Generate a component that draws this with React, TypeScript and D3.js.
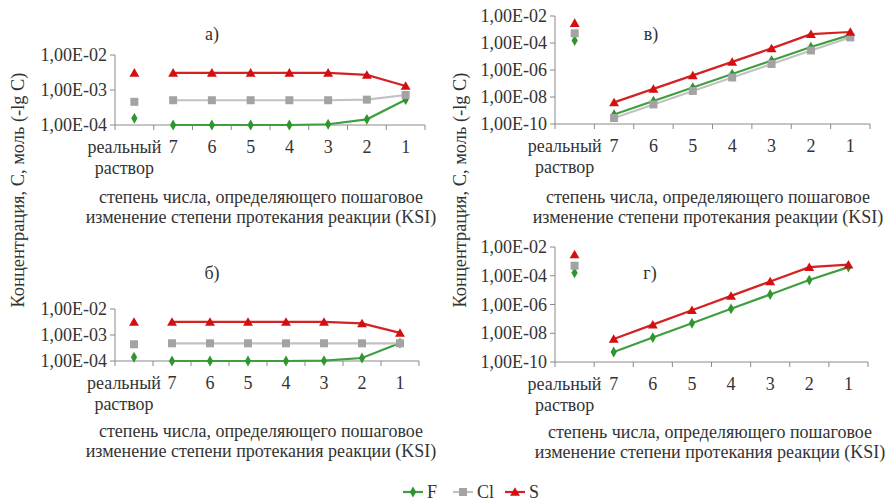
import React from "react";
import * as d3 from "d3";

// categories on the x axis: the real solution, then the KSI power 7..1
const categories = ["реальный раствор", "7", "6", "5", "4", "3", "2", "1"];
const steps = ["7", "6", "5", "4", "3", "2", "1"];

// panel а)
const aReal = { F: 1.55e-4, Cl: 4.6e-4, S: 3.1e-3 };
const aF = [1.0e-4, 1.0e-4, 1.0e-4, 1.0e-4, 1.05e-4, 1.45e-4, 5.3e-4];
const aCl = [5.1e-4, 5.1e-4, 5.1e-4, 5.1e-4, 5.1e-4, 5.3e-4, 7.2e-4];
const aS = [3.1e-3, 3.1e-3, 3.1e-3, 3.1e-3, 3.1e-3, 2.7e-3, 1.3e-3];

// panel б)
const bReal = { F: 1.4e-4, Cl: 4.4e-4, S: 3.2e-3 };
const bF = [1.0e-4, 1.0e-4, 1.0e-4, 1.0e-4, 1.03e-4, 1.3e-4, 4.9e-4];
const bCl = [4.8e-4, 4.8e-4, 4.8e-4, 4.8e-4, 4.8e-4, 4.8e-4, 4.8e-4];
const bS = [3.2e-3, 3.2e-3, 3.2e-3, 3.2e-3, 3.2e-3, 2.8e-3, 1.2e-3];

// panel в)
const vReal = { F: 1.5e-4, Cl: 5.2e-4, S: 3.0e-3 };
const vF = [5e-10, 5e-9, 5e-8, 5e-7, 5e-6, 5e-5, 4e-4];
const vCl = [2.8e-10, 2.8e-9, 2.8e-8, 2.8e-7, 2.8e-6, 2.8e-5, 2.6e-4];
const vS = [4e-9, 4e-8, 4e-7, 4e-6, 4e-5, 4.5e-4, 6.5e-4];

// panel г)
const gReal = { F: 1.6e-4, Cl: 5e-4, S: 3e-3 };
const gF = [5e-10, 5e-9, 5e-8, 5e-7, 5e-6, 5e-5, 4e-4];
const gCl: number[] | null = null;
const gS = [4e-9, 4e-8, 4e-7, 4e-6, 4e-5, 4e-4, 6e-4];

const ticksNarrow = [1e-2, 1e-3, 1e-4];
const ticksWide = [1e-2, 1e-4, 1e-6, 1e-8, 1e-10];

const FONT = "Liberation Serif, DejaVu Serif, serif";
const TEXT = "#333";
const AXIS = "#8a8a8a";
const FS = 18;

const series = [
  { key: "F", line: "#3f9f3f", fill: "#2f962f", shape: "diamond" },
  { key: "Cl", line: "#c2c2c2", fill: "#a3a3a3", shape: "square" },
  { key: "S", line: "#d42222", fill: "#d40f0f", shape: "triangle" },
];

const fmt = (v: number) => {
  const e = Math.round(Math.log10(v));
  return "1,00E-" + String(-e).padStart(2, "0");
};

function Marker({ shape, x, y, fill }: any) {
  if (shape === "diamond") {
    const p = d3.symbol(d3.symbolDiamond, 34)();
    return <path d={p!} transform={`translate(${x},${y})`} fill={fill} />;
  }
  if (shape === "square") {
    return <rect x={x - 4} y={y - 4} width={8} height={8} fill={fill} />;
  }
  const p = d3.symbol(d3.symbolTriangle, 42)();
  return <path d={p!} transform={`translate(${x},${y + 1})`} fill={fill} />;
}

function Panel({ x0, x1, yTop, yBot, ticks, label, labelX, labelY, real, data, titleX, titleY }: any) {
  const x = d3.scaleBand().domain(categories).range([x0, x1]);
  const y = d3
    .scaleLog()
    .domain([ticks[ticks.length - 1], ticks[0]])
    .range([yBot, yTop]);
  const cx = (c: string) => x(c)! + x.bandwidth() / 2;
  const line = d3
    .line<number>()
    .x((_, i) => cx(steps[i]))
    .y((d) => y(d));
  const bounds = categories.map((c) => x(c)!).concat([x1]);
  const realX = cx(categories[0]) - 10;
  return (
    <g style={{ fontFamily: FONT }} fill={TEXT}>
      <text x={labelX} y={labelY} fontSize={FS} textAnchor="middle">
        {label}
      </text>
      <line x1={x0} x2={x0} y1={yTop} y2={yBot} stroke={AXIS} />
      {ticks.map((t: number) => (
        <g key={t}>
          <line x1={x0 - 5} x2={x0} y1={y(t)} y2={y(t)} stroke={AXIS} />
          <text x={x0 - 8} y={y(t) + 6} fontSize={FS} textAnchor="end">
            {fmt(t)}
          </text>
        </g>
      ))}
      <line x1={x0} x2={x1} y1={yBot} y2={yBot} stroke={AXIS} />
      {bounds.map((b, i) => (
        <line key={i} x1={b} x2={b} y1={yBot} y2={yBot + 5} stroke={AXIS} />
      ))}
      {categories.map((c, i) =>
        i === 0 ? (
          <text key={c} x={realX} y={yBot + 28} fontSize={FS} textAnchor="middle">
            <tspan x={realX}>реальный</tspan>
            <tspan x={realX} dy={21}>
              раствор
            </tspan>
          </text>
        ) : (
          <text key={c} x={cx(c)} y={yBot + 28} fontSize={FS} textAnchor="middle">
            {c}
          </text>
        )
      )}
      <text x={titleX} y={titleY} fontSize={FS} textAnchor="middle">
        степень числа, определяющего пошаговое
      </text>
      <text x={titleX} y={titleY + 20} fontSize={FS} textAnchor="middle">
        изменение степени протекания реакции (KSI)
      </text>
      {series.map((s) => {
        const vals: number[] | null = data[s.key];
        return (
          <g key={s.key}>
            <Marker shape={s.shape} x={cx(categories[0])} y={y(real[s.key])} fill={s.fill} />
            {vals && (
              <>
                <path d={line(vals)!} fill="none" stroke={s.line} strokeWidth={2.2} />
                {vals.map((v, i) => (
                  <Marker key={i} shape={s.shape} x={cx(steps[i])} y={y(v)} fill={s.fill} />
                ))}
              </>
            )}
          </g>
        );
      })}
    </g>
  );
}

function YTitle({ x, y }: { x: number; y: number }) {
  return (
    <text
      transform={`translate(${x},${y}) rotate(-90)`}
      style={{ fontFamily: FONT }}
      fontSize={FS}
      fill={TEXT}
      textAnchor="middle"
      dy={6}
      textLength={235}
      lengthAdjust="spacingAndGlyphs"
    >
      Концентрация, С, моль (-lg C)
    </text>
  );
}

export default function App() {
  const legendItems = [
    { s: series[0], x: 403, label: "F" },
    { s: series[1], x: 453, label: "Cl" },
    { s: series[2], x: 505, label: "S" },
  ];
  return (
    <div style={{ position: "absolute", left: 0, top: 0 }}>
      <svg width={890} height={501} style={{ display: "block", background: "#fff" }}>
        <YTitle x={18} y={190} />
        <YTitle x={460} y={190} />
        <Panel
          x0={115} x1={425} yTop={55} yBot={125} ticks={ticksNarrow}
          label="а)" labelX={212} labelY={40} real={aReal}
          data={{ F: aF, Cl: aCl, S: aS }} titleX={261} titleY={203}
        />
        <Panel
          x0={115} x1={419} yTop={309} yBot={361} ticks={ticksNarrow}
          label="б)" labelX={212} labelY={279} real={bReal}
          data={{ F: bF, Cl: bCl, S: bS }} titleX={261} titleY={437}
        />
        <Panel
          x0={555} x1={870} yTop={16} yBot={124} ticks={ticksWide}
          label="в)" labelX={651} labelY={40} real={vReal}
          data={{ F: vF, Cl: vCl, S: vS }} titleX={708} titleY={203}
        />
        <Panel
          x0={555} x1={868} yTop={247} yBot={362} ticks={ticksWide}
          label="г)" labelX={650} labelY={279} real={gReal}
          data={{ F: gF, Cl: gCl, S: gS }} titleX={710} titleY={438}
        />
        {legendItems.map(({ s, x, label }) => (
          <g key={label}>
            <line x1={x} x2={x + 20} y1={492} y2={492} stroke={s.line} strokeWidth={2.2} />
            <Marker shape={s.shape} x={x + 10} y={492} fill={s.fill} />
            <text x={x + 24} y={498} style={{ fontFamily: FONT }} fontSize={FS} fill={TEXT}>
              {label}
            </text>
          </g>
        ))}
      </svg>
    </div>
  );
}
